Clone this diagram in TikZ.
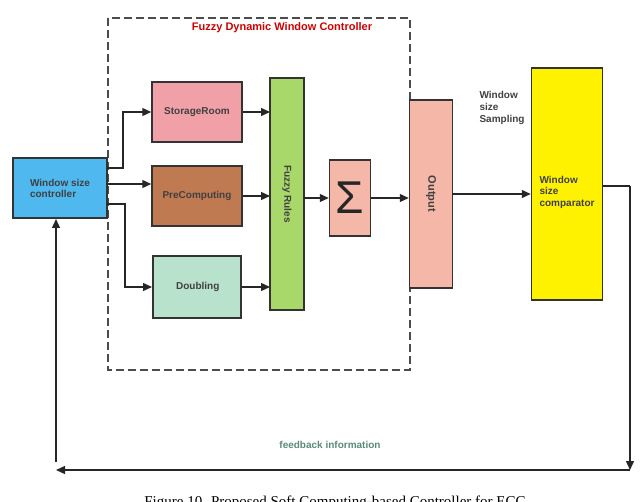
\documentclass[tikz,border=0pt]{standalone}
\usepackage{fontspec}
\setmainfont{Liberation Sans}
\newfontfamily\capfont{Liberation Serif}
\usetikzlibrary{arrows.meta}
\definecolor{cblue}{HTML}{4FB8EE}
\definecolor{cpink}{HTML}{F2A0A8}
\definecolor{cbrown}{HTML}{C07A52}
\definecolor{cteal}{HTML}{B8E2CC}
\definecolor{cgreen}{HTML}{A8D86A}
\definecolor{csalmon}{HTML}{F5B8A8}
\definecolor{cyel}{HTML}{FFF200}
\definecolor{fbtext}{HTML}{5A8A78}
\tikzset{
 blk/.style={draw=black!80,line width=1.5pt,font=\bfseries\fontsize{10}{11}\selectfont,text=black!75,inner sep=2pt},
 arr/.style={-{Triangle[length=9pt,width=8pt]},line width=1.4pt,black!85},
}
\begin{document}
\begin{tikzpicture}[x=1pt,y=-1pt]
\useasboundingbox (0,0) rectangle (640,502);
\clip (0,0) rectangle (640,502);
\draw[line width=1.3pt,black!70,dash pattern=on 8pt off 4pt] (108,18) rectangle (410,370);
\node[text=red!80!black,font=\bfseries\fontsize{11}{13}\selectfont] (title) at (282,28) {Fuzzy Dynamic Window Controller};
\node[blk,fill=cblue,minimum width=94pt,minimum height=60pt,align=left] (wsc) at (60,188) {Window size\\controller};
\node[blk,fill=cpink,minimum width=90pt,minimum height=60pt] (sr) at (197,112) {StorageRoom};
\node[blk,fill=cbrown,minimum width=90pt,minimum height=60pt] (pc) at (197,196) {PreComputing};
\node[blk,fill=cteal,minimum width=88pt,minimum height=62pt,anchor=west] (db) at (152,287) {\hspace{2pt}Doubling\hfill};
\node[blk,fill=cgreen,minimum width=34pt,minimum height=232pt] (fr) at (287,194) {};
\node[font=\bfseries\fontsize{10}{11}\selectfont,text=black!75,rotate=-90] at (fr) {Fuzzy Rules};
\node[blk,fill=csalmon,minimum width=41pt,minimum height=76pt] (sg) at (350,198) {};
\node[font=\fontsize{46}{48}\selectfont,text=black!85] at (sg) {Σ};
\node[blk,fill=csalmon,minimum width=43pt,minimum height=188pt] (out) at (431,194) {};
\node[font=\bfseries\fontsize{11}{13}\selectfont,text=black!75,rotate=-90] at (out) {Output};
\node[blk,fill=cyel,minimum width=71pt,minimum height=232pt] (cmp) at (567,184) {};
\node[font=\bfseries\fontsize{10}{11.5}\selectfont,text=black!75,align=left,anchor=west] at (536,192) {Window\\size\\comparator};
\node[font=\bfseries\fontsize{10}{12}\selectfont,text=black!75,align=left,anchor=north west] (samp) at (476,88) {Window\\size\\Sampling};
\draw[arr] (107,168) -- (123,168) |- (sr.west);
\draw[arr] (107,184) -- (pc.west |- 0,184);
\draw[arr] (107,204) -- (125,204) |- (db.west);
\draw[arr] (sr.east) -- (270,112);
\draw[arr] (pc.east) -- (270,196);
\draw[arr] (db.east) -- (270,287);
\draw[arr] (304,198) -- (sg.west);
\draw[arr] (sg.east) -- (out.west |- sg.east);
\draw[arr] (452,194) -- (cmp.west |- 0,194);
\coordinate (c1) at (630,186);
\coordinate (c2) at (630,470);
\coordinate (c3) at (56,470);
\draw[line width=1.4pt,black!85] (603,186) -- (c1);
\draw[arr] (c1) -- (c2);
\draw[arr] (c2) -- (c3);
\draw[arr] (56,462) -- (56,219);
\node[text=fbtext,font=\bfseries\fontsize{10}{11}\selectfont] (fb) at (330,445) {feedback information};
\node[font=\capfont\fontsize{15}{17}\selectfont,anchor=north] (cap) at (335,492) {Figure 10. Proposed Soft Computing-based Controller for ECC};
\end{tikzpicture}
\end{document}
